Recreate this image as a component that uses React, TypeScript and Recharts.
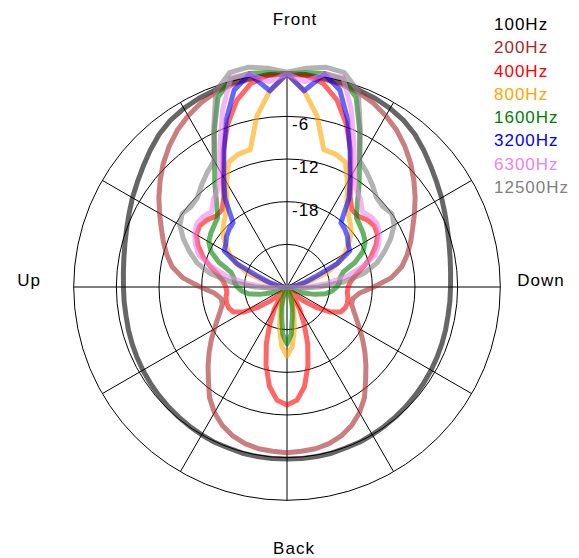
import {
  Legend,
  PolarAngleAxis,
  PolarGrid,
  PolarRadiusAxis,
  Radar,
  RadarChart,
} from 'recharts';

// angle in degrees, clockwise from Front; level in dB (0 = outer ring)
const angles = [
  0, 5, 10, 15, 20, 25, 30, 35, 40, 45, 50, 55, 60, 65, 70, 75, 80, 85,
  90, 95, 100, 105, 110, 115, 120, 125, 130, 135, 140, 145, 150, 155, 160, 165, 170, 175,
  180, 185, 190, 195, 200, 205, 210, 215, 220, 225, 230, 235, 240, 245, 250, 255, 260, 265,
  270, 275, 280, 285, 290, 295, 300, 305, 310, 315, 320, 325, 330, 335, 340, 345, 350, 355,
];

const hz100 = [
  0, 0, -0.2, -0.3, -0.5, -0.7, -1.0, -1.4, -2.0, -2.8, -3.6, -4.3, -4.9, -5.5, -6.0, -6.4, -6.7, -6.9,
  -7.0, -7.0, -7.0, -6.9, -6.8, -6.7, -6.6, -6.5, -6.4, -6.3, -6.2, -6.1, -6.0, -5.9, -5.9, -5.8, -5.8, -5.8,
  -5.8, -5.8, -5.8, -5.8, -5.9, -5.9, -6.0, -6.1, -6.2, -6.3, -6.4, -6.5, -6.6, -6.7, -6.8, -6.9, -7.0, -7.0,
  -7.0, -6.9, -6.7, -6.4, -6.0, -5.5, -4.9, -4.3, -3.6, -2.8, -2.0, -1.4, -1.0, -0.7, -0.5, -0.3, -0.2, 0,
];
const hz200 = [
  0, -0.1, -0.3, -0.5, -0.8, -1.4, -2.2, -3.1, -4.2, -5.4, -6.7, -8.0, -9.3, -10.5, -11.5, -12.5, -13.6, -15.3,
  -17.8, -19.8, -20.6, -20.6, -20.0, -19.2, -18.2, -17.0, -15.7, -14.3, -12.8, -11.0, -9.6, -8.5, -7.7, -7.2, -6.9, -6.8,
  -6.7, -6.8, -6.9, -7.2, -7.7, -8.5, -9.6, -11.0, -12.8, -14.3, -15.7, -17.0, -18.2, -19.2, -20.0, -20.6, -20.6, -19.8,
  -17.8, -15.3, -13.6, -12.5, -11.5, -10.5, -9.3, -8.0, -6.7, -5.4, -4.2, -3.1, -2.2, -1.4, -0.8, -0.5, -0.3, -0.1,
];
const hz400 = [
  0, -0.1, -0.9, -2.8, -5.6, -8.8, -12.0, -14.5, -15.8, -15.9, -15.3, -15.0, -15.3, -16.2, -17.4, -18.8, -20.2, -21.0,
  -21.4, -21.5, -21.3, -21.2, -21.3, -21.7, -23.0, -25.0, -27.0, -28.6, -29.0, -28.5, -26.5, -24.3, -21.5, -18.6, -15.8, -14.0,
  -13.4, -14.0, -15.8, -18.6, -21.5, -24.3, -26.5, -28.5, -29.0, -28.6, -27.0, -25.0, -23.0, -21.7, -21.3, -21.2, -21.3, -21.5,
  -21.4, -21.0, -20.2, -18.8, -17.4, -16.2, -15.3, -15.0, -15.3, -15.9, -15.8, -14.5, -12.0, -8.8, -5.6, -2.8, -0.9, -0.1,
];
const hz800 = [
  0, -2.3, -5.6, -10.0, -10.1, -10.6, -13.0, -15.3, -16.6, -17.4, -18.2, -19.4, -20.6, -22.2, -23.9, -26.4, -28.0, -29.0,
  -29.5, -30, -30, -30, -30, -30, -30, -30, -30, -30, -30, -30, -29.6, -29.0, -28.0, -26.2, -24.0, -21.6,
  -20.3, -21.6, -24.0, -26.2, -28.0, -29.0, -29.6, -30, -30, -30, -30, -30, -30, -30, -30, -30, -30, -30,
  -29.5, -29.0, -28.0, -26.4, -23.9, -22.2, -20.6, -19.4, -18.2, -17.4, -16.6, -15.3, -13.0, -10.6, -10.1, -10.0, -5.6, -2.3,
];
const hz1600 = [
  0, 0.3, 0.5, 0.3, -1.6, -5.8, -9.6, -12.3, -14.6, -16.2, -16.6, -16.9, -17.3, -18.2, -19.8, -21.8, -22.4, -22.6,
  -23.0, -23.6, -24.5, -26.0, -27.5, -28.6, -29.5, -30, -30, -30, -30, -30, -30, -29.5, -28.5, -27.2, -25.7, -23.3,
  -22.0, -23.3, -25.7, -27.2, -28.5, -29.5, -30, -30, -30, -30, -30, -30, -29.5, -28.6, -27.5, -26.0, -24.5, -23.6,
  -23.0, -22.6, -22.4, -21.8, -19.8, -18.2, -17.3, -16.9, -16.6, -16.2, -14.6, -12.3, -9.6, -5.8, -1.6, 0.3, 0.5, 0.3,
];
const hz3200 = [
  0, -2.3, 0.4, -1.3, -5.0, -9.0, -12.2, -14.8, -18.2, -18.5, -18.9, -19.5, -19.8, -22.2, -25.8, -27.3, -28.5, -29.3,
  -29.8, -30, -30, -30, -30, -30, -30, -30, -30, -30, -30, -30, -30, -30, -30, -30, -30, -30,
  -30, -30, -30, -30, -30, -30, -30, -30, -30, -30, -30, -30, -30, -30, -30, -30, -30, -30,
  -29.8, -29.3, -28.5, -27.3, -25.8, -22.2, -19.8, -19.5, -18.9, -18.5, -18.2, -14.8, -12.2, -9.0, -5.0, -1.3, 0.4, -2.3,
];
const hz6300 = [
  0, -1.0, 0.4, 0.5, -3.5, -7.7, -11.0, -13.1, -13.9, -15.0, -14.6, -14.5, -15.0, -15.8, -16.8, -19.0, -21.5, -24.4,
  -27.0, -28.5, -29.5, -30, -30, -30, -30, -30, -30, -30, -30, -30, -30, -30, -30, -30, -30, -30,
  -30, -30, -30, -30, -30, -30, -30, -30, -30, -30, -30, -30, -30, -30, -30, -30, -29.5, -28.5,
  -27.0, -24.4, -21.5, -19.0, -16.8, -15.8, -15.0, -14.5, -14.6, -15.0, -13.9, -13.1, -11.0, -7.7, -3.5, 0.5, 0.4, -1.0,
];
const hz12500 = [
  0.2, 0.9, 1.4, 1.2, -0.7, -5.6, -9.5, -10.4, -11.3, -12.2, -12.4, -12.0, -12.6, -13.9, -15.4, -16.9, -19.0, -22.0,
  -25.5, -28.0, -29.5, -30, -30, -30, -30, -30, -30, -30, -30, -30, -30, -30, -30, -30, -30, -30,
  -30, -30, -30, -30, -30, -30, -30, -30, -30, -30, -30, -30, -30, -30, -30, -30, -29.5, -28.0,
  -25.5, -22.0, -19.0, -16.9, -15.4, -13.9, -12.6, -12.0, -12.4, -12.2, -11.3, -10.4, -9.5, -5.6, -0.7, 1.2, 1.4, 0.9,
];

const seriesNames = ['100Hz', '200Hz', '400Hz', '800Hz', '1600Hz', '3200Hz', '6300Hz', '12500Hz'];
const seriesColors = ['black', 'brown', 'red', 'orange', 'green', 'blue', 'violet', 'gray'];
const seriesValues = [hz100, hz200, hz400, hz800, hz1600, hz3200, hz6300, hz12500];

const directionLabels: Record<number, string> = { 0: 'Front', 90: 'Down', 180: 'Back', 270: 'Up' };
const levelLabels = [-6, -12, -18];

const CX = 287;
const CY = 287;
const R = 213.3;
const FONT = '"Liberation Sans", Arial, sans-serif';

const data = angles.map((angle, i) => {
  const row: Record<string, number> = { angle };
  seriesNames.forEach((name, s) => {
    row[name] = seriesValues[s][i];
  });
  return row;
});

const directionOffset: Record<string, [number, number]> = {
  Front: [8, -262],
  Down: [254, -1],
  Back: [7, 267],
  Up: [-258, -1],
};

function DirectionTick(props: any) {
  const label = directionLabels[props.payload?.value];
  if (!label) return null;
  const [dx, dy] = directionOffset[label];
  return (
    <text
      x={CX + dx}
      y={CY + dy}
      textAnchor='middle'
      fontFamily={FONT}
      fontSize={17}
      letterSpacing={1}
      fill='#000'
    >
      {label}
    </text>
  );
}

function LevelTick(props: any) {
  const v = props.payload?.value;
  if (!levelLabels.includes(v)) return null;
  return (
    <text
      x={props.x + 5}
      y={props.y + 14}
      textAnchor='start'
      fontFamily={FONT}
      fontSize={17}
      letterSpacing={1}
      fill='#000'
    >
      {v}
    </text>
  );
}

function FreqLegend() {
  return (
    <div style={{ fontFamily: FONT }}>
      {seriesNames.map((name, i) => (
        <div
          key={name}
          style={{
            color: seriesColors[i],
            fontSize: 17,
            lineHeight: '23.3px',
            letterSpacing: 1,
            whiteSpace: 'nowrap',
          }}
        >
          {name}
        </div>
      ))}
    </div>
  );
}

export default function App() {
  return (
    <div style={{ position: 'absolute', left: 0, top: 0, width: 579, height: 558, background: '#fff' }}>
      <RadarChart
        width={579}
        height={558}
        data={data}
        cx={CX}
        cy={CY}
        innerRadius={0}
        outerRadius={R}
        startAngle={90}
        endAngle={-270}
        margin={{ top: 0, right: 0, bottom: 0, left: 0 }}
      >
        <PolarGrid
          gridType='circle'
          stroke='#000'
          strokeWidth={1}
          polarAngles={[0, 30, 60, 90, 120, 150, 180, 210, 240, 270, 300, 330]}
          polarRadius={[R / 5, (2 * R) / 5, (3 * R) / 5, (4 * R) / 5, R]}
        />
        <PolarAngleAxis
          dataKey='angle'
          axisLine={false}
          tickLine={false}
          tick={<DirectionTick />}
        />
        <PolarRadiusAxis
          angle={90}
          type='number'
          domain={[-30, 0]}
          allowDataOverflow
          tickCount={6}
          axisLine={false}
          tickLine={false}
          tick={<LevelTick />}
        />
        {seriesNames.map((name, i) => (
          <Radar
            key={name}
            name={name}
            dataKey={name}
            stroke={seriesColors[i]}
            strokeOpacity={0.6}
            strokeWidth={5}
            strokeLinejoin='round'
            fill='none'
            fillOpacity={0}
            dot={false}
            isAnimationActive={false}
          />
        ))}
        <Legend
          layout='vertical'
          verticalAlign='top'
          align='right'
          wrapperStyle={{ top: 13, left: 494, width: 85 }}
          content={<FreqLegend />}
        />
      </RadarChart>
    </div>
  );
}
